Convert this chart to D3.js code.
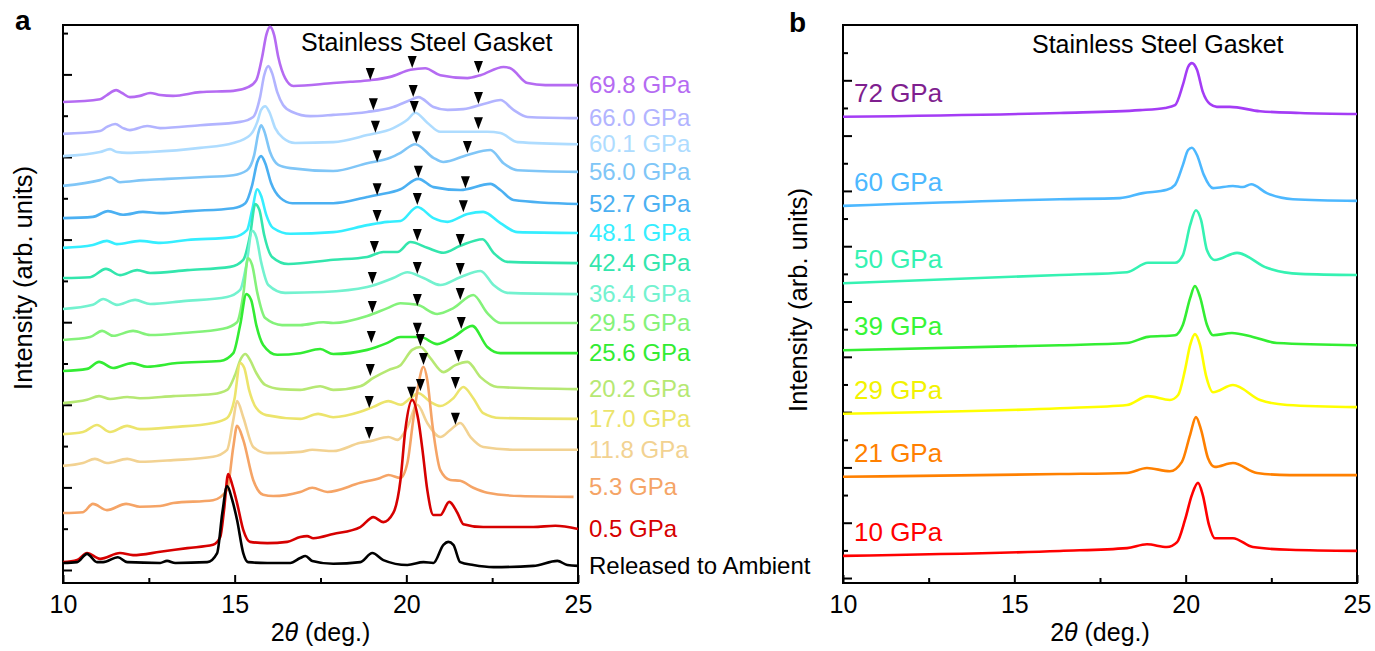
<!DOCTYPE html>
<html>
<head>
<meta charset="utf-8">
<script src="https://cdn.jsdelivr.net/npm/d3@7"></script>
<style>
  body { margin: 0; background: #fff; }
  svg { display: block; font-family: "Liberation Sans", Arial, sans-serif; }
</style>
</head>
<body>
<svg id="chart" width="1375" height="651"></svg>
<script>
// ---- panel a : stacked XRD patterns, 2theta (deg.) vs intensity (arb. units) ----
const labelsA = ["69.8 GPa", "66.0 GPa", "60.1 GPa", "56.0 GPa", "52.7 GPa", "48.1 GPa", "42.4 GPa",
  "36.4 GPa", "29.5 GPa", "25.6 GPa", "20.2 GPa", "17.0 GPa", "11.8 GPa", "5.3 GPa", "0.5 GPa",
  "Released to Ambient"];

const p698 = [[10.00,11.33],[11.08,11.40],[11.28,11.50],[11.55,11.62],[11.72,11.55],[11.95,11.45],[12.24,11.48],
  [12.54,11.55],[12.83,11.50],[13.21,11.48],[13.99,11.57],[14.96,11.60],[15.39,11.69],[15.63,11.86],[15.80,12.42],
  [15.92,12.95],[16.03,13.15],[16.15,12.95],[16.27,12.42],[16.47,11.91],[16.71,11.72],[17.87,11.79],[18.37,11.82],
  [18.95,11.86],[19.53,11.94],[20.12,12.11],[20.55,12.15],[20.99,11.98],[21.78,11.91],[22.16,11.98],[22.83,12.18],
  [23.03,12.15],[23.53,11.79],[24.05,11.74],[25.00,11.74]];
const p660 = [[10.00,10.56],[11.08,10.63],[11.28,10.73],[11.52,10.80],[11.75,10.70],[11.95,10.65],[12.45,10.75],
  [12.83,10.70],[13.99,10.77],[15.16,10.85],[15.54,10.97],[15.74,11.45],[15.86,11.98],[15.98,12.20],[16.09,12.03],
  [16.24,11.57],[16.41,11.26],[16.68,11.09],[17.20,10.99],[17.87,11.02],[18.86,11.09],[19.62,11.21],[20.12,11.38],
  [20.35,11.45],[20.79,11.21],[21.20,11.14],[21.66,11.16],[22.36,11.31],[22.74,11.38],[23.12,11.14],[23.53,10.97],
  [25.00,10.94]];
const p601 = [[10.00,10.02],[11.08,10.12],[11.37,10.19],[11.57,10.12],[11.87,10.10],[12.54,10.12],[13.99,10.22],
  [14.96,10.34],[15.45,10.53],[15.66,10.85],[15.77,11.14],[15.89,11.23],[16.01,11.09],[16.18,10.70],[16.41,10.46],
  [16.76,10.34],[17.87,10.36],[18.86,10.53],[19.62,10.70],[20.03,10.90],[20.26,11.07],[20.61,10.83],[20.99,10.61],
  [21.78,10.61],[22.36,10.61],[22.74,10.58],[23.24,10.36],[25.00,10.31]];
const p560 = [[10.00,9.30],[11.08,9.44],[11.37,9.51],[11.66,9.39],[12.33,9.44],[13.03,9.47],[13.99,9.51],
  [14.96,9.56],[15.36,9.68],[15.57,10.05],[15.69,10.58],[15.77,10.77],[15.86,10.63],[16.03,10.12],[16.27,9.81],
  [16.62,9.73],[17.87,9.66],[18.86,9.85],[19.53,9.98],[19.83,10.10],[20.26,10.31],[20.79,9.98],[21.08,9.88],
  [21.78,10.05],[22.45,10.17],[22.83,9.85],[23.24,9.68],[25.00,9.64]];
const p527 = [[10.00,8.52],[10.87,8.55],[11.31,8.69],[11.75,8.60],[12.33,8.67],[12.83,8.64],[13.70,8.69],
  [14.96,8.76],[15.31,8.88],[15.51,9.32],[15.66,9.88],[15.77,10.02],[15.89,9.85],[16.06,9.37],[16.33,9.01],
  [16.68,8.88],[17.87,8.88],[18.86,9.03],[19.15,9.08],[19.83,9.22],[20.35,9.47],[20.79,9.27],[21.57,9.20],
  [22.45,9.35],[22.74,9.20],[23.12,8.96],[25.00,8.86]];
const p481 = [[10.00,7.80],[10.87,7.87],[11.28,7.97],[11.57,7.89],[12.24,7.97],[12.83,7.92],[13.62,7.99],
  [14.96,8.06],[15.36,8.23],[15.51,8.72],[15.66,9.22],[15.77,9.06],[15.92,8.60],[16.12,8.28],[16.62,8.14],
  [17.87,8.18],[18.86,8.35],[19.45,8.43],[19.83,8.45],[20.32,8.79],[20.79,8.52],[21.20,8.43],[21.78,8.62],
  [22.24,8.67],[22.74,8.40],[23.24,8.18],[25.00,8.16]];
const p424 = [[10.00,7.07],[10.79,7.09],[11.25,7.29],[11.66,7.14],[12.16,7.26],[12.54,7.19],[13.62,7.26],
  [14.87,7.34],[15.25,7.51],[15.45,8.11],[15.60,8.86],[15.72,8.72],[15.86,8.11],[16.09,7.58],[16.56,7.41],
  [17.87,7.51],[18.86,7.58],[19.33,7.70],[19.74,7.70],[20.12,7.94],[20.61,7.80],[21.08,7.68],[21.57,7.85],
  [22.22,8.01],[22.54,7.68],[22.94,7.46],[25.00,7.43]];
const p364 = [[10.00,6.32],[10.87,6.42],[11.17,6.56],[11.57,6.42],[12.10,6.54],[12.54,6.44],[13.50,6.51],
  [14.78,6.61],[15.16,6.78],[15.34,7.38],[15.51,8.21],[15.63,8.06],[15.77,7.46],[15.98,6.90],[16.47,6.71],
  [17.58,6.73],[18.86,6.85],[19.62,7.07],[20.03,7.21],[20.50,7.07],[20.99,6.90],[21.57,7.09],[22.16,7.24],
  [22.54,6.90],[22.94,6.71],[25.00,6.68]];
const p295 = [[10.00,5.57],[10.79,5.64],[11.14,5.79],[11.46,5.67],[12.04,5.79],[12.54,5.69],[13.50,5.74],
  [14.66,5.84],[15.07,6.00],[15.25,6.66],[15.39,7.55],[15.51,7.38],[15.66,6.71],[15.89,6.10],[16.38,5.93],
  [16.91,5.93],[17.58,6.00],[17.87,5.98],[18.86,6.15],[19.45,6.34],[19.83,6.46],[20.32,6.42],[20.90,6.20],
  [21.37,6.34],[21.95,6.66],[22.36,6.22],[22.74,5.98],[25.00,5.98]];
const p256 = [[10.00,4.82],[10.70,4.87],[11.05,5.04],[11.46,4.89],[12.01,5.01],[12.45,4.92],[13.32,5.01],
  [14.58,5.06],[14.96,5.25],[15.16,5.93],[15.34,6.68],[15.48,6.54],[15.63,5.93],[15.83,5.45],[16.24,5.21],
  [16.91,5.25],[17.49,5.35],[17.87,5.23],[18.86,5.33],[19.45,5.50],[19.83,5.64],[20.41,5.64],[20.90,5.47],
  [21.37,5.64],[21.92,5.91],[22.36,5.40],[22.74,5.25],[25.00,5.25]];
const p202 = [[10.00,4.04],[10.70,4.12],[11.05,4.21],[11.37,4.14],[11.87,4.19],[12.24,4.16],[13.21,4.21],
  [14.37,4.26],[14.78,4.36],[15.01,4.72],[15.19,5.13],[15.31,5.23],[15.45,5.08],[15.63,4.77],[15.89,4.48],
  [16.33,4.38],[16.91,4.36],[17.49,4.45],[17.87,4.36],[18.66,4.45],[19.04,4.65],[19.48,4.84],[19.83,4.96],
  [20.17,5.33],[20.41,5.40],[20.70,5.13],[21.08,4.79],[21.43,4.96],[21.78,5.04],[22.16,4.67],[22.65,4.43],
  [25.00,4.38]];
const p170 = [[10.00,3.29],[10.58,3.34],[10.99,3.51],[11.37,3.34],[11.87,3.49],[12.24,3.41],[13.21,3.46],
  [14.37,3.56],[14.78,3.68],[14.99,4.12],[15.16,5.01],[15.28,4.89],[15.42,4.36],[15.63,3.92],[15.92,3.75],
  [16.91,3.66],[17.43,3.78],[17.87,3.70],[18.66,3.83],[19.04,3.95],[19.48,4.09],[19.83,4.00],[20.12,4.16],
  [20.35,4.28],[20.70,4.07],[20.99,3.97],[21.37,4.16],[21.66,4.43],[21.95,4.16],[22.24,3.80],[22.74,3.68],
  [25.00,3.66]];
const p118 = [[10.00,2.52],[10.58,2.59],[10.93,2.69],[11.28,2.59],[11.87,2.69],[12.24,2.62],[13.21,2.66],
  [14.37,2.74],[14.78,2.91],[14.96,3.63],[15.07,4.09],[15.25,3.70],[15.54,2.98],[15.95,2.83],[16.91,2.86],
  [17.26,2.91],[17.87,2.88],[18.66,3.08],[18.95,3.12],[19.48,3.22],[19.74,3.15],[20.03,3.46],[20.32,4.00],
  [20.61,3.56],[20.99,3.22],[21.28,3.39],[21.57,3.56],[21.87,3.22],[22.24,2.98],[23.24,2.91],[25.00,2.91]];
const p053 = [[10.00,1.38],[10.58,1.40],[10.87,1.60],[11.28,1.45],[11.84,1.60],[12.24,1.53],[12.83,1.55],
  [13.21,1.62],[14.37,1.69],[14.78,1.94],[14.96,2.98],[15.07,3.49],[15.25,3.15],[15.54,2.18],[15.83,1.82],
  [16.12,1.79],[16.91,1.89],[17.26,1.99],[17.70,1.89],[18.66,2.11],[19.24,2.23],[19.48,2.30],[19.83,2.23],
  [20.03,2.59],[20.20,3.63],[20.35,4.48],[20.50,4.92],[20.61,4.60],[20.76,3.51],[20.99,2.42],[21.28,2.18],
  [21.57,2.16],[21.95,1.99],[22.36,1.87],[23.32,1.79],[24.87,1.77]];
const p005 = [[10.00,0.19],[10.41,0.24],[10.70,0.41],[11.08,0.27],[11.66,0.41],[12.04,0.36],[12.83,0.44],
  [13.62,0.53],[14.37,0.61],[14.58,0.80],[14.69,1.45],[14.81,2.32],[14.93,2.06],[15.07,1.62],[15.25,0.97],
  [15.45,0.68],[15.95,0.65],[16.53,0.68],[16.91,0.80],[17.11,0.82],[17.29,0.77],[17.87,0.87],[18.66,1.04],
  [19.04,1.28],[19.33,1.16],[19.62,1.38],[19.83,2.18],[19.97,3.39],[20.17,4.12],[20.35,3.63],[20.47,2.91],
  [20.61,1.94],[20.79,1.33],[20.99,1.33],[21.25,1.65],[21.49,1.38],[21.66,1.11],[22.24,1.04],[23.70,1.04],
  [24.34,1.07],[25.00,0.99]];
const ambient = [[10.00,0.17],[10.41,0.19],[10.70,0.39],[10.99,0.19],[11.17,0.19],[11.60,0.31],[11.87,0.19],
  [12.83,0.17],[13.03,0.22],[13.27,0.17],[14.20,0.19],[14.49,0.41],[14.64,1.38],[14.78,2.03],[14.93,1.69],
  [15.07,1.21],[15.25,0.41],[15.39,0.19],[15.95,0.17],[16.62,0.17],[16.91,0.29],[17.06,0.34],[17.26,0.22],
  [17.87,0.15],[18.66,0.19],[19.01,0.41],[19.33,0.24],[20.03,0.12],[20.50,0.19],[20.79,0.17],[21.08,0.61],
  [21.22,0.68],[21.37,0.61],[21.57,0.19],[21.95,0.12],[22.54,0.07],[23.70,0.10],[24.40,0.22],[24.69,0.12],
  [25.00,0.10]];
const seriesA = [p698, p660, p601, p560, p527, p481, p424, p364, p295, p256, p202, p170, p118, p053, p005, ambient];
const colorsA = ["#b56bf2", "#b2b4ff", "#aedcff", "#80c6f7", "#4bb0f2", "#35eeff", "#33e6ad", "#73f2cf",
  "#84f27a", "#33ec33", "#b6e873", "#ece46c", "#f2d292", "#f5a466", "#d60000", "#000000"];

// peak markers (2theta, intensity) in panel a
const markersA = [[18.95,12.01],[20.17,12.30],[22.10,12.18],[19.04,11.28],[20.20,11.60],[22.10,11.43],
  [20.23,11.21],[19.10,10.73],[22.10,10.82],[20.29,10.48],[19.15,10.02],[21.78,10.24],[20.35,9.64],[19.15,9.22],
  [21.72,9.39],[20.32,8.98],[19.15,8.57],[21.66,8.81],[20.32,8.11],[21.57,7.99],[19.07,7.82],[20.32,7.31],
  [21.57,7.29],[19.01,7.07],[20.32,6.54],[21.57,6.68],[19.01,6.37],[20.32,5.84],[21.60,5.98],[18.98,5.64],
  [20.41,5.57],[21.52,5.18],[18.95,4.84],[20.50,5.11],[18.92,4.07],[20.15,4.29],[20.41,4.48],[21.43,4.53],
  [21.43,3.66],[18.92,3.32]];

// ---- panel b ----
const labelsB = ["72 GPa", "60 GPa", "50 GPa", "39 GPa", "29 GPa", "21 GPa", "10 GPa"];
const b72 = [[10.00,8.34],[16.33,8.41],[18.67,8.46],[19.40,8.50],[19.69,8.55],[19.92,8.92],[20.07,9.24],
  [20.18,9.31],[20.33,9.19],[20.50,8.79],[20.71,8.57],[20.91,8.52],[21.29,8.52],[22.17,8.44],[23.34,8.41],[25.00,8.39]];
const b60 = [[10.00,6.73],[16.33,6.85],[18.08,6.87],[18.75,6.96],[19.45,7.02],[19.69,7.11],[19.92,7.47],
  [20.07,7.74],[20.18,7.78],[20.33,7.65],[20.53,7.29],[20.80,7.05],[21.38,7.09],[21.67,7.07],[21.91,7.12],
  [22.37,6.96],[23.13,6.85],[25.00,6.82]];
const b50 = [[10.00,5.33],[16.33,5.48],[18.29,5.53],[18.90,5.70],[19.69,5.70],[19.92,5.84],[20.13,6.38],
  [20.30,6.65],[20.45,6.47],[20.62,5.93],[20.85,5.75],[21.50,5.88],[22.37,5.61],[23.34,5.50],[25.00,5.48]];
const b39 = [[10.00,4.12],[16.33,4.21],[18.29,4.25],[18.90,4.36],[19.69,4.39],[19.92,4.58],[20.13,5.06],
  [20.27,5.28],[20.42,5.08],[20.62,4.58],[20.80,4.39],[21.35,4.43],[21.96,4.36],[22.66,4.25],[25.00,4.21]];
const b29 = [[10.00,2.97],[16.33,3.07],[18.29,3.13],[18.90,3.29],[19.54,3.22],[19.78,3.31],[19.98,3.76],
  [20.13,4.21],[20.27,4.41],[20.42,4.21],[20.59,3.67],[20.80,3.36],[21.38,3.49],[22.17,3.22],[22.96,3.13],[25.00,3.09]];
const b21 = [[10.00,1.83],[16.33,1.88],[18.29,1.90],[18.87,1.99],[19.54,1.93],[19.89,2.10],[20.13,2.59],
  [20.30,2.91],[20.45,2.68],[20.65,2.17],[20.85,2.01],[21.38,2.08],[22.08,1.90],[23.04,1.86],[25.00,1.86]];
const b10 = [[10.00,0.40],[16.33,0.49],[18.29,0.54],[18.87,0.61],[19.45,0.56],[19.75,0.65],[19.98,1.05],
  [20.18,1.50],[20.36,1.72],[20.50,1.50],[20.68,0.96],[20.85,0.72],[21.38,0.72],[21.96,0.56],[23.04,0.51],[25.00,0.49]];
const seriesB = [b72, b60, b50, b39, b29, b21, b10];
const colorsB = ["#a43cf5", "#4db8ff", "#35f2b2", "#33ee33", "#ffff00", "#ff8000", "#ff0000"];
const labelColorsB = ["#7f1f8f", "#4db8ff", "#35f2b2", "#36f536", "#f2f200", "#ff8000", "#ff0000"];

// axis ticks
const xMajor = [10, 15, 20, 25];
const xMinor = [12.5, 17.5, 22.5];
const yMajorA = [0, 2, 4, 6, 8, 10, 12];
const yMinorA = [1, 3, 5, 7, 9, 11, 13];
const yMajorB = [0, 1, 2, 3, 4, 5, 6, 7, 8, 9];
const yMinorB = [0.5, 1.5, 2.5, 3.5, 4.5, 5.5, 6.5, 7.5, 8.5, 9.5];

const svg = d3.select("#chart");
const plotTop = 25, plotBottom = 583;

const xA = d3.scaleLinear().domain([10, 25]).range([63, 578]);
const yA = d3.scaleLinear().domain([-0.315, 13.196]).range([plotBottom, plotTop]);
const xB = d3.scaleLinear().domain([10, 25]).range([843, 1357]);
const yB = d3.scaleLinear().domain([-0.09, 10]).range([plotBottom, plotTop]);

function drawFrame(x, y, yMajor, yMinor, yTitleX, yTitleY) {
  const g = svg.append("g");
  const [x0, x1] = x.range();

  // bottom axis, ticks pointing inward
  const xa = g.append("g").attr("transform", `translate(0,${plotBottom})`);
  xa.call(d3.axisBottom(x).tickValues(xMajor).tickSize(-8).tickSizeOuter(0).tickPadding(12).tickFormat(d3.format("d")));
  xa.append("g").call(d3.axisBottom(x).tickValues(xMinor).tickSize(-5).tickSizeOuter(0).tickFormat(""));

  const ya = g.append("g").attr("transform", `translate(${x0},0)`);
  ya.call(d3.axisLeft(y).tickValues(yMajor).tickSize(-9).tickSizeOuter(0).tickFormat(""));
  ya.append("g").call(d3.axisLeft(y).tickValues(yMinor).tickSize(-5).tickSizeOuter(0).tickFormat(""));

  g.selectAll(".domain").remove();
  g.selectAll(".tick line").attr("stroke", "#000").attr("stroke-width", 2);
  g.selectAll(".tick text").attr("fill", "#000").style("font-size", "25px")
    .style("font-family", "'Liberation Sans', Arial, sans-serif");

  g.append("rect")
    .attr("x", x0).attr("y", plotTop)
    .attr("width", x1 - x0).attr("height", plotBottom - plotTop)
    .attr("fill", "none").attr("stroke", "#000").attr("stroke-width", 2);

  const xt = g.append("text")
    .attr("x", (x0 + x1) / 2).attr("y", 641)
    .attr("text-anchor", "middle").style("font-size", "25px");
  xt.append("tspan").text("2");
  xt.append("tspan").style("font-style", "italic").text("θ");
  xt.append("tspan").text(" (deg.)");

  g.append("text")
    .attr("transform", `translate(${yTitleX},${yTitleY}) rotate(-90)`)
    .attr("text-anchor", "middle").style("font-size", "25.5px")
    .text("Intensity (arb. units)");
}

drawFrame(xA, yA, yMajorA, yMinorA, 32, 278);
drawFrame(xB, yB, yMajorB, yMinorB, 807, 300);

// curves, panel a
const lineA = d3.line().x(d => xA(d[0])).y(d => yA(d[1])).curve(d3.curveMonotoneX);
svg.append("g").selectAll("path")
  .data(seriesA)
  .join("path")
  .attr("d", lineA)
  .attr("fill", "none")
  .attr("stroke", (d, i) => colorsA[i])
  .attr("stroke-width", 2.6)
  .attr("stroke-linejoin", "round");

// labels sit at the right end of each pattern (5.3 GPa lifted a little, as drawn)
svg.append("g").selectAll("text")
  .data(seriesA)
  .join("text")
  .attr("x", 589)
  .attr("y", (d, i) => yA(d[d.length - 1][1]) + (labelsA[i] === "5.3 GPa" ? -2 : 8))
  .attr("fill", (d, i) => colorsA[i])
  .style("font-size", "24px")
  .text((d, i) => labelsA[i]);

// down-pointing peak markers
svg.append("g").selectAll("path")
  .data(markersA)
  .join("path")
  .attr("transform", d => `translate(${xA(d[0])},${yA(d[1])})`)
  .attr("d", "M-4.5,-6L4.5,-6L0,6Z")
  .attr("fill", "#000");

svg.append("text").attr("x", 301).attr("y", 51).style("font-size", "25px").text("Stainless Steel Gasket");

// curves, panel b
const lineB = d3.line().x(d => xB(d[0])).y(d => yB(d[1])).curve(d3.curveMonotoneX);
svg.append("g").selectAll("path")
  .data(seriesB)
  .join("path")
  .attr("d", lineB)
  .attr("fill", "none")
  .attr("stroke", (d, i) => colorsB[i])
  .attr("stroke-width", 2.6);

svg.append("g").selectAll("text")
  .data(seriesB)
  .join("text")
  .attr("x", 854)
  .attr("y", d => yB(d[0][1]) - 15)
  .attr("fill", (d, i) => labelColorsB[i])
  .style("font-size", "26px")
  .text((d, i) => labelsB[i]);

svg.append("text").attr("x", 1032).attr("y", 53).style("font-size", "25px").text("Stainless Steel Gasket");

// panel letters
svg.append("text").attr("x", 15).attr("y", 30).style("font-size", "28px").style("font-weight", "bold").text("a");
svg.append("text").attr("x", 789).attr("y", 32).style("font-size", "28px").style("font-weight", "bold").text("b");
</script>
</body>
</html>
